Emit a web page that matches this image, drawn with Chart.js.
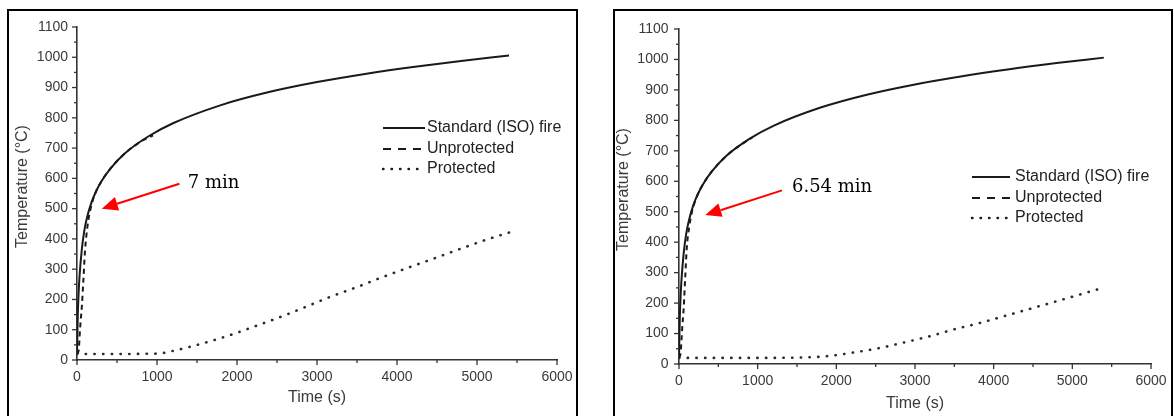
<!DOCTYPE html>
<html><head><meta charset="utf-8">
<script src="https://cdn.jsdelivr.net/npm/chart.js@4.4.0/dist/chart.umd.min.js"></script>
<style>
html,body{margin:0;padding:0;background:#fff;width:1174px;height:416px;overflow:hidden;position:relative}
.panel{position:absolute;border:2px solid #000;box-sizing:border-box;top:9px;height:420px}
#p1{left:7px;width:571px}
#p2{left:613px;width:560px}
.cv{position:absolute}
#w1{left:9px;top:11px;width:567px;height:405px}
#w2{left:615px;top:11px;width:556px;height:405px}
</style></head><body>
<div class="panel" id="p1"></div><div class="panel" id="p2"></div>
<div class="cv" id="w1"><canvas id="c1"></canvas></div>
<div class="cv" id="w2"><canvas id="c2"></canvas></div>
<script>
// ---- data (time in s, temperature in °C) ----
const isoTime = [0,10,20,30,60,90,120,180,240,300,420,600,900,1200,1800,2400,3000,3600,4200,4800,5400];
const isoTemp = [20,150,220,270,365,425,465,520,558,588,633,683,740,782,842,885,918,945,968,988,1006];

const unprotTimeA = [0,20,40,60,80,100,130,170,220,300,420,600,800,950];
const unprotTempA = [20,30,110,175,265,360,440,500,545,588,633,683,722,742];
const protTimeA = [0,500,1000,1200,1400,1600,1900,2200,2600,2900,3200,3500,3800,4150,4500,4800,5100,5400];
const protTempA = [20,20,21,30,43,57,81,109,148,180,212,241,272,306,339,368,396,421];

const unprotTimeB = [0,20,40,60,80,100,130,165,220,300,420,600,800,930];
const unprotTempB = [20,35,115,185,290,385,450,500,545,588,633,683,722,743];
const protTimeB = [0,500,1000,1500,1800,2000,2200,2500,2900,3200,3500,3800,4200,4500,4800,5200,5400];
const protTempB = [20,20,20,21,24,29,37,50,73,92,114,133,162,184,206,236,251];

const seriesNames = ['Standard (ISO) fire','Unprotected','Protected'];
const xTickValues = [0,1000,2000,3000,4000,5000,6000];
const yTickValues = [0,100,200,300,400,500,600,700,800,900,1000,1100];
const yTitle = 'Temperature (°C)';
const xTitle = 'Time (s)';
const noteA = {label:'7 min', tail:[1280,582], tip:[310,500], text:[1384,583]};
const noteB = {label:'6.54 min', tail:[1309,570], tip:[334,489], text:[1436,579]};

const pts = (xs, ys) => xs.map((x,i)=>({x:x, y:ys[i]}));
const LINE = '#1a1a1a';
const TXT = '#3a3a3a';

function zeroPad(s){ s.paddingLeft = 0; s.paddingRight = 0; s.paddingTop = 0; s.paddingBottom = 0; }

function makeChart(id, opt){
  const plugin = {
    id:'extras'+id,
    afterDraw(chart){
      const c = chart.ctx, xs = chart.scales.x, ys = chart.scales.y, ca = chart.chartArea;
      c.save();
      // tick marks
      c.strokeStyle = '#333'; c.lineWidth = 1.3;
      for (let v=0; v<=6000; v+=500){
        const p = xs.getPixelForValue(v); const L = xTickValues.includes(v) ? 5 : 3;
        c.beginPath(); c.moveTo(p, ca.bottom); c.lineTo(p, ca.bottom+L); c.stroke();
      }
      for (let v=0; v<=1100; v+=50){
        const p = ys.getPixelForValue(v); const L = yTickValues.includes(v) ? 5 : 3;
        c.beginPath(); c.moveTo(ca.left, p); c.lineTo(ca.left-L, p); c.stroke();
      }
      // axis titles
      c.fillStyle = TXT; c.font = '16px "Liberation Sans", Arial, sans-serif';
      c.textAlign = 'center'; c.textBaseline = 'middle';
      c.fillText(xTitle, (ca.left+ca.right)/2, ca.bottom + opt.xTitleOff);
      c.save();
      c.translate(ca.left - opt.yTitleOff, (ca.top+ca.bottom)/2 - 7);
      c.rotate(-Math.PI/2);
      c.fillText(yTitle, 0, 0);
      c.restore();
      // legend
      const lg = opt.legend;
      c.font = '16px "Liberation Sans", Arial, sans-serif';
      c.textAlign = 'left'; c.fillStyle = '#222';
      const dashes = [[], [8,7], [0.5,8]];
      seriesNames.forEach((n,i)=>{
        const y = lg.y[i];
        c.save();
        c.strokeStyle = LINE; c.lineWidth = i===2 ? 2.4 : 1.8;
        c.lineCap = i===2 ? 'round' : 'butt';
        c.setLineDash(dashes[i]);
        c.beginPath(); c.moveTo(lg.x, y); c.lineTo(lg.x+lg.len, y); c.stroke();
        c.restore();
        c.fillText(n, lg.x+lg.len+lg.gap, y);
      });
      // annotation arrow
      const n = opt.note;
      const tx = xs.getPixelForValue(n.tail[0]), ty = ys.getPixelForValue(n.tail[1]);
      const hx = xs.getPixelForValue(n.tip[0]), hy = ys.getPixelForValue(n.tip[1]);
      const ang = Math.atan2(hy-ty, hx-tx);
      const HL = 16, HW = 7;
      const bx = hx - HL*Math.cos(ang), by = hy - HL*Math.sin(ang);
      c.strokeStyle = '#ff0000'; c.fillStyle = '#ff0000'; c.lineWidth = 2;
      c.beginPath(); c.moveTo(tx,ty); c.lineTo(bx,by); c.stroke();
      c.beginPath(); c.moveTo(hx,hy);
      c.lineTo(bx + HW*Math.sin(ang), by - HW*Math.cos(ang));
      c.lineTo(bx - HW*Math.sin(ang), by + HW*Math.cos(ang));
      c.closePath(); c.fill();
      c.fillStyle = '#000'; c.font = '18px "DejaVu Serif", serif';
      c.textAlign = 'left'; c.textBaseline = 'middle';
      c.fillText(n.label, xs.getPixelForValue(n.text[0]), ys.getPixelForValue(n.text[1]));
      c.restore();
    }
  };
  return new Chart(document.getElementById(id), {
    type:'line',
    data:{datasets:[
      {label:seriesNames[0], data:pts(opt.isoT, opt.isoV), borderColor:LINE, borderWidth:2, pointRadius:0, cubicInterpolationMode:'monotone', fill:false},
      {label:seriesNames[1], data:pts(opt.uT, opt.uV), borderColor:LINE, borderWidth:2, borderDash:[5,4], pointRadius:0, cubicInterpolationMode:'monotone', fill:false},
      {label:seriesNames[2], data:pts(opt.pT, opt.pV), borderColor:'#2a2a2a', borderWidth:2.6, borderDash:[0.3,8.4], borderCapStyle:'round', pointRadius:0, cubicInterpolationMode:'monotone', fill:false}
    ]},
    options:{
      responsive:true, maintainAspectRatio:false, animation:false,
      layout:{padding:{top:opt.padTop, right:opt.padRight, left:0, bottom:0}},
      plugins:{legend:{display:false}, tooltip:{enabled:false}},
      scales:{
        x:{type:'linear', min:0, max:6000,
          grid:{display:false, drawTicks:false},
          border:{display:true, color:'#333', width:1.6},
          ticks:{stepSize:500, autoSkip:false, maxRotation:0, padding:opt.xPad, color:TXT,
            font:{family:'"Liberation Sans", Arial, sans-serif', size:14},
            callback:(v)=> xTickValues.includes(v) ? String(v) : ''},
          afterFit:(s)=>{ s.height = opt.xH; zeroPad(s); }
        },
        y:{type:'linear', min:0, max:1100,
          grid:{display:false, drawTicks:false},
          border:{display:true, color:'#333', width:1.6},
          ticks:{stepSize:50, autoSkip:false, padding:opt.yPad, color:TXT,
            font:{family:'"Liberation Sans", Arial, sans-serif', size:14},
            callback:(v)=> yTickValues.includes(v) ? String(v) : ''},
          afterFit:(s)=>{ s.width = opt.yW; zeroPad(s); }
        }
      }
    },
    plugins:[plugin]
  });
}

makeChart('c1', {isoT:isoTime, isoV:isoTemp, uT:unprotTimeA, uV:unprotTempA, pT:protTimeA, pV:protTempA,
  padTop:16, padRight:19, yW:68, xH:56, xPad:9, yPad:9, xTitleOff:38, yTitleOff:54,
  legend:{x:374, len:42, gap:2, y:[117,138,158]}, note:noteA});
makeChart('c2', {isoT:isoTime, isoV:isoTemp, uT:unprotTimeB, uV:unprotTempB, pT:protTimeB, pV:protTempB,
  padTop:18, padRight:20, yW:64, xH:52, xPad:9, yPad:10.5, xTitleOff:40, yTitleOff:55.5,
  legend:{x:357, len:38, gap:5, y:[166,187,207]}, note:noteB});
</script>
</body></html>
